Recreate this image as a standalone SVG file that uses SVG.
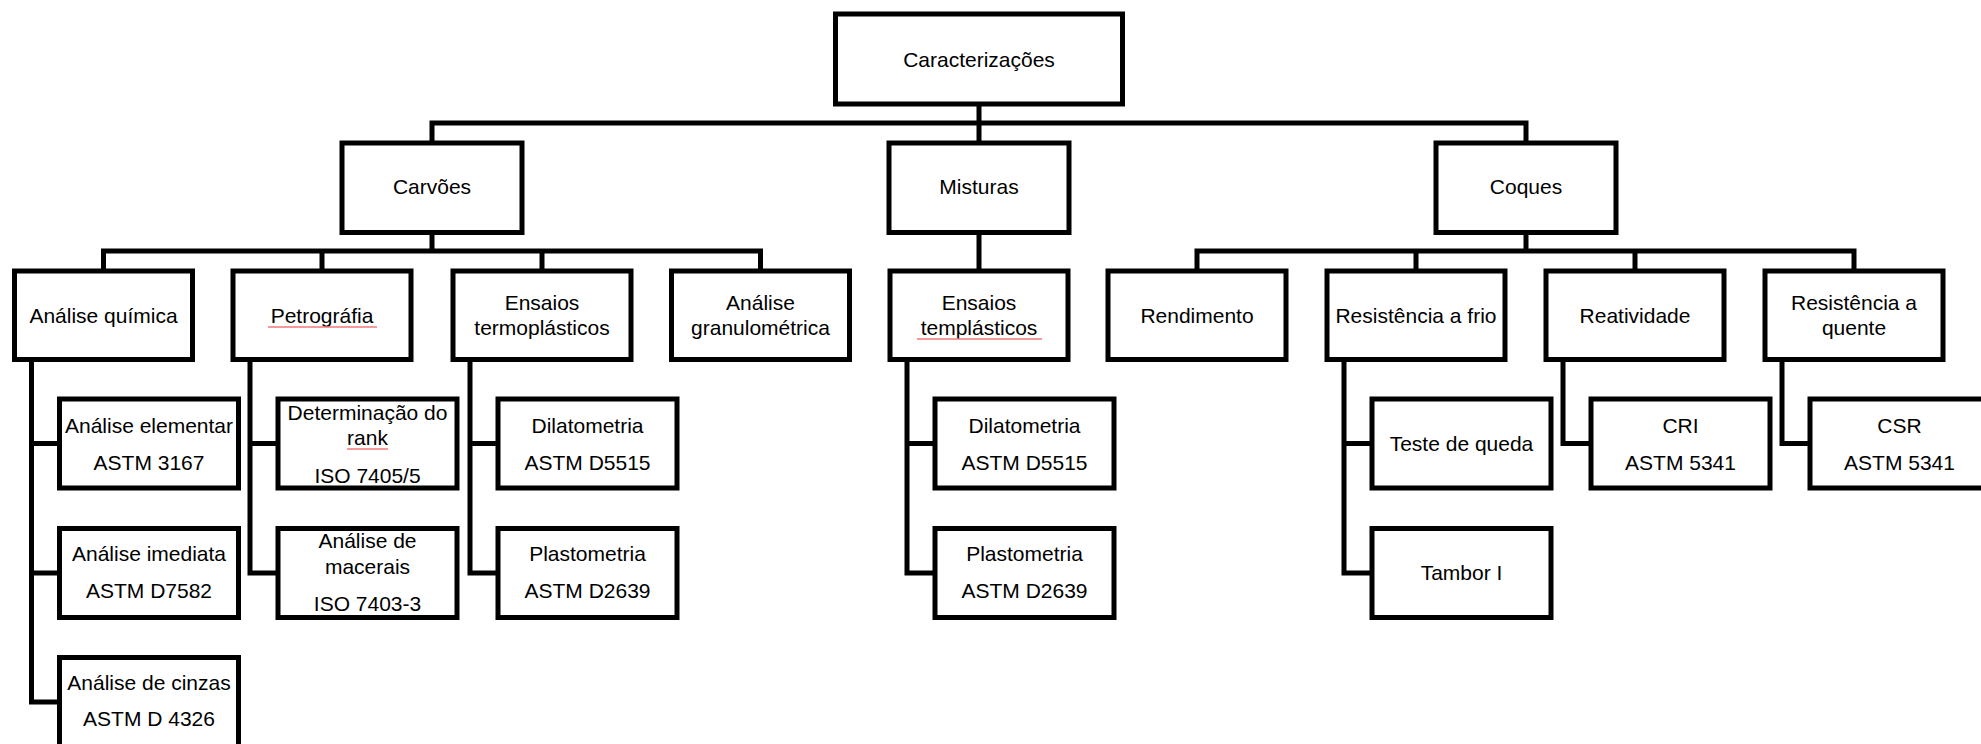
<svg xmlns="http://www.w3.org/2000/svg" width="1981" height="744" viewBox="0 0 1981 744">
<style>
  .box { fill: #ffffff; stroke: #000000; stroke-width: 5; }
  .con { fill: none; stroke: #000000; stroke-width: 5; stroke-linejoin: miter; }
  .t { font-family: "Liberation Sans", Arial, sans-serif; font-size: 21px; fill: #000000; text-anchor: middle; }
  .sp { stroke: #f07878; stroke-width: 1.5; fill: none; }
</style>
<rect width="1981" height="744" fill="#ffffff"/>

<g id="connectors">
  <!-- root to level 1 -->
  <path class="con" d="M979 104 V123 M432 143 V123 H1526 V143 M979 123 V143"/>
  <!-- Carvões bus -->
  <path class="con" d="M432 232.5 V251 M103.5 271 V251 H760.5 V271 M322 251 V271 M542 251 V271"/>
  <!-- Misturas -->
  <path class="con" d="M979 232.5 V271"/>
  <!-- Coques bus -->
  <path class="con" d="M1526 232.5 V251 M1197 271 V251 H1854 V271 M1416 251 V271 M1635 251 V271"/>
  <!-- Análise química children -->
  <path class="con" d="M31.5 359 V702 H59.5 M31.5 443.5 H59.5 M31.5 573 H59.5"/>
  <!-- Petrografia children -->
  <path class="con" d="M250 359 V573 H278 M250 443.5 H278"/>
  <!-- Ensaios termoplásticos children -->
  <path class="con" d="M470 359 V573 H498 M470 443.5 H498"/>
  <!-- Ensaios templásticos children -->
  <path class="con" d="M907 359 V573 H935 M907 443.5 H935"/>
  <!-- Resistência a frio children -->
  <path class="con" d="M1344 359 V573 H1372 M1344 443.5 H1372"/>
  <!-- Reatividade child -->
  <path class="con" d="M1563 359 V443.5 H1591"/>
  <!-- Resistência a quente child -->
  <path class="con" d="M1782 359 V443.5 H1810"/>
</g>

<g id="n-caracterizacoes">
  <rect class="box" x="835.5" y="14" width="287" height="90"/>
  <text class="t" x="979" y="67">Caracterizações</text>
</g>

<g id="n-carvoes">
  <rect class="box" x="342" y="143" width="180" height="89.5"/>
  <text class="t" x="432" y="194">Carvões</text>
</g>
<g id="n-misturas">
  <rect class="box" x="889" y="143" width="180" height="89.5"/>
  <text class="t" x="979" y="194">Misturas</text>
</g>
<g id="n-coques">
  <rect class="box" x="1436" y="143" width="180" height="89.5"/>
  <text class="t" x="1526" y="194">Coques</text>
</g>

<g id="n-analise-quimica">
  <rect class="box" x="14.5" y="271" width="178" height="88.5"/>
  <text class="t" x="103.5" y="323">Análise química</text>
</g>
<g id="n-petrografia">
  <rect class="box" x="233" y="271" width="178" height="88.5"/>
  <text class="t" x="322" y="323">Petrográfia</text>
  <line class="sp" x1="268" y1="327" x2="377" y2="327"/>
</g>
<g id="n-ensaios-termo">
  <rect class="box" x="453" y="271" width="178" height="88.5"/>
  <text class="t" x="542" y="310">Ensaios</text>
  <text class="t" x="542" y="335">termoplásticos</text>
</g>
<g id="n-granulometrica">
  <rect class="box" x="671.5" y="271" width="178" height="88.5"/>
  <text class="t" x="760.5" y="310">Análise</text>
  <text class="t" x="760.5" y="335">granulométrica</text>
</g>
<g id="n-ensaios-templ">
  <rect class="box" x="890" y="271" width="178" height="88.5"/>
  <text class="t" x="979" y="310">Ensaios</text>
  <text class="t" x="979" y="335">templásticos</text>
  <line class="sp" x1="917" y1="339" x2="1042" y2="339"/>
</g>
<g id="n-rendimento">
  <rect class="box" x="1108" y="271" width="178" height="88.5"/>
  <text class="t" x="1197" y="323">Rendimento</text>
</g>
<g id="n-resistencia-frio">
  <rect class="box" x="1327" y="271" width="178" height="88.5"/>
  <text class="t" x="1416" y="323">Resistência a frio</text>
</g>
<g id="n-reatividade">
  <rect class="box" x="1546" y="271" width="178" height="88.5"/>
  <text class="t" x="1635" y="323">Reatividade</text>
</g>
<g id="n-resistencia-quente">
  <rect class="box" x="1765" y="271" width="178" height="88.5"/>
  <text class="t" x="1854" y="310">Resistência a</text>
  <text class="t" x="1854" y="335">quente</text>
</g>

<g id="n-analise-elementar">
  <rect class="box" x="59.5" y="399" width="179" height="89"/>
  <text class="t" x="149" y="433">Análise elementar</text>
  <text class="t" x="149" y="470">ASTM 3167</text>
</g>
<g id="n-analise-imediata">
  <rect class="box" x="59.5" y="528.5" width="179" height="89"/>
  <text class="t" x="149" y="561">Análise imediata</text>
  <text class="t" x="149" y="598">ASTM D7582</text>
</g>
<g id="n-analise-cinzas">
  <rect class="box" x="59.5" y="657.5" width="179" height="89"/>
  <text class="t" x="149" y="690">Análise de cinzas</text>
  <text class="t" x="149" y="726">ASTM D 4326</text>
</g>

<g id="n-rank">
  <rect class="box" x="278" y="399" width="179" height="89"/>
  <text class="t" x="367.5" y="420">Determinação do</text>
  <text class="t" x="367.5" y="445">rank</text>
  <line class="sp" x1="347" y1="449" x2="388" y2="449"/>
  <text class="t" x="367.5" y="483">ISO 7405/5</text>
</g>
<g id="n-macerais">
  <rect class="box" x="278" y="528.5" width="179" height="89"/>
  <text class="t" x="367.5" y="548">Análise de</text>
  <text class="t" x="367.5" y="574">macerais</text>
  <text class="t" x="367.5" y="611">ISO 7403-3</text>
</g>

<g id="n-dilatometria-1">
  <rect class="box" x="498" y="399" width="179" height="89"/>
  <text class="t" x="587.5" y="433">Dilatometria</text>
  <text class="t" x="587.5" y="470">ASTM D5515</text>
</g>
<g id="n-plastometria-1">
  <rect class="box" x="498" y="528.5" width="179" height="89"/>
  <text class="t" x="587.5" y="561">Plastometria</text>
  <text class="t" x="587.5" y="598">ASTM D2639</text>
</g>

<g id="n-dilatometria-2">
  <rect class="box" x="935" y="399" width="179" height="89"/>
  <text class="t" x="1024.5" y="433">Dilatometria</text>
  <text class="t" x="1024.5" y="470">ASTM D5515</text>
</g>
<g id="n-plastometria-2">
  <rect class="box" x="935" y="528.5" width="179" height="89"/>
  <text class="t" x="1024.5" y="561">Plastometria</text>
  <text class="t" x="1024.5" y="598">ASTM D2639</text>
</g>

<g id="n-teste-queda">
  <rect class="box" x="1372" y="399" width="179" height="89"/>
  <text class="t" x="1461.5" y="451">Teste de queda</text>
</g>
<g id="n-tambor">
  <rect class="box" x="1372" y="528.5" width="179" height="89"/>
  <text class="t" x="1461.5" y="580">Tambor I</text>
</g>

<g id="n-cri">
  <rect class="box" x="1591" y="399" width="179" height="89"/>
  <text class="t" x="1680.5" y="433">CRI</text>
  <text class="t" x="1680.5" y="470">ASTM 5341</text>
</g>
<g id="n-csr">
  <rect class="box" x="1810" y="399" width="179" height="89"/>
  <text class="t" x="1899.5" y="433">CSR</text>
  <text class="t" x="1899.5" y="470">ASTM 5341</text>
</g>
</svg>
